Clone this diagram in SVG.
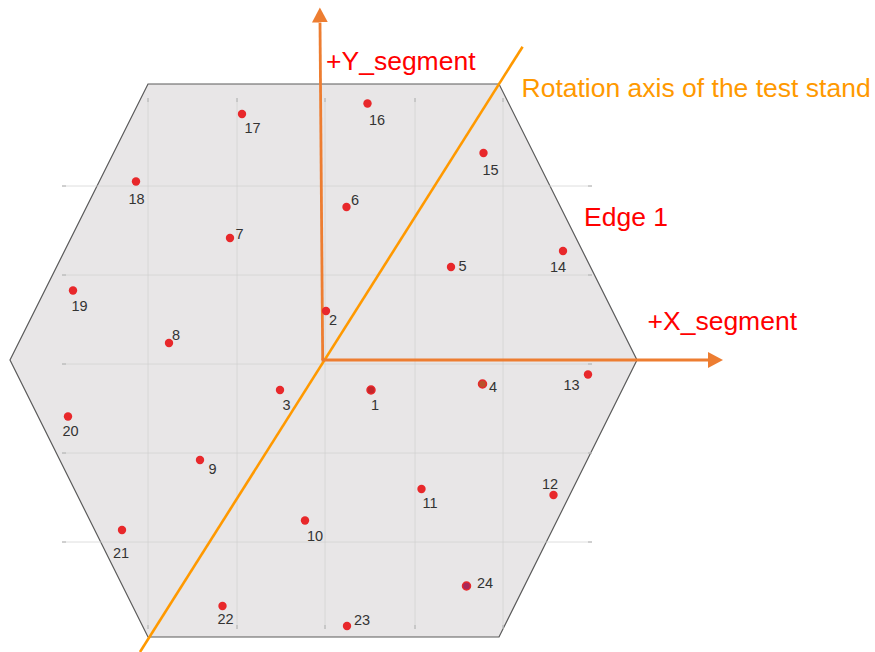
<svg xmlns="http://www.w3.org/2000/svg" width="875" height="652" viewBox="0 0 875 652">
<defs>
<style>
.grid{stroke:#d0d0d0;stroke-width:1;fill:none;opacity:0.7}
.tick{stroke:#b0b0b0;stroke-width:1}
.dot{fill:#e8282b}
.lbl{font-family:"Liberation Sans",Arial,sans-serif;font-size:14.5px;fill:#333333;text-anchor:middle}
.big{font-family:"Liberation Sans",Arial,sans-serif;font-size:26.5px}
.axis{stroke:#ed7d31;stroke-width:2.8;fill:none}
</style>
<marker id="ah" markerUnits="userSpaceOnUse" markerWidth="16" markerHeight="16" refX="0" refY="8" orient="auto">
<path d="M0,0 L15,8 L0,16 Z" fill="#ed7d31"/>
</marker>
</defs>
<rect width="875" height="652" fill="#ffffff"/>
<g id="plate">
<polygon points="148,84 499,84 637,360 499,637 148,637 10,360" fill="#e8e6e7" stroke="#5a5a5a" stroke-width="1.2"/>
<g id="grid">
<line class="grid" x1="62" y1="186" x2="592" y2="186"/>
<line class="grid" x1="62" y1="275" x2="592" y2="275"/>
<line class="grid" x1="62" y1="364" x2="592" y2="364"/>
<line class="grid" x1="62" y1="453" x2="592" y2="453"/>
<line class="grid" x1="62" y1="542" x2="592" y2="542"/>
<line class="grid" x1="148" y1="98" x2="148" y2="629"/>
<line class="grid" x1="237" y1="98" x2="237" y2="629"/>
<line class="grid" x1="325" y1="98" x2="325" y2="629"/>
<line class="grid" x1="415" y1="98" x2="415" y2="629"/>
<line class="grid" x1="503" y1="98" x2="503" y2="629"/>
<path class="tick" d="M62,186h4M62,275h4M62,364h4M62,453h4M62,542h4M588,186h4M588,275h4M588,364h4M588,453h4M588,542h4M148,98v4M237,98v4M325,98v4M415,98v4M503,98v4M148,625v4M237,625v4M325,625v4M415,625v4M503,625v4"/>
</g>
</g>
<g id="connectors">
<line id="rotation-axis" x1="140" y1="652" x2="522.6" y2="46.7" stroke="#ff9900" stroke-width="2.6"/>
<line id="y-axis" class="axis" x1="322.7" y1="360" x2="320" y2="22.5" marker-end="url(#ah)"/>
<line id="x-axis" class="axis" x1="321.5" y1="360" x2="708" y2="360" marker-end="url(#ah)"/>
</g>
<g id="texts">
<text id="t-y" class="big" x="326" y="70" fill="#ff0000">+Y_segment</text>
<text id="t-rot" class="big" x="521.5" y="96.5" fill="#ff9900">Rotation axis of the test stand</text>
<text id="t-edge" class="big" x="584" y="226" fill="#ff0000" font-size="25">Edge 1</text>
<text id="t-x" class="big" x="647.5" y="330" fill="#ff0000">+X_segment</text>
</g>
<g id="points">
<g id="p1"><circle cx="371" cy="390" r="4" fill="#c4262b" stroke="#e8282b" stroke-width="1.5"/><text class="lbl" x="375" y="410">1</text></g>
<g id="p2"><circle class="dot" cx="326" cy="311" r="4.2"/><text class="lbl" x="333" y="325">2</text></g>
<g id="p3"><circle class="dot" cx="280" cy="390" r="4.2"/><text class="lbl" x="286.5" y="410">3</text></g>
<g id="p4"><circle cx="482.5" cy="384" r="4" fill="#b8522a" stroke="#e8282b" stroke-width="1.5"/><text class="lbl" x="493" y="391.5">4</text></g>
<g id="p5"><circle class="dot" cx="451" cy="267" r="4.2"/><text class="lbl" x="462.5" y="271">5</text></g>
<g id="p6"><circle class="dot" cx="346.5" cy="207" r="4.2"/><text class="lbl" x="355" y="205">6</text></g>
<g id="p7"><circle class="dot" cx="230" cy="238" r="4.2"/><text class="lbl" x="239.5" y="238.5">7</text></g>
<g id="p8"><circle class="dot" cx="169" cy="343" r="4.2"/><text class="lbl" x="176" y="339.5">8</text></g>
<g id="p9"><circle class="dot" cx="200" cy="460" r="4.2"/><text class="lbl" x="212.5" y="473.5">9</text></g>
<g id="p10"><circle class="dot" cx="305" cy="520.5" r="4.2"/><text class="lbl" x="315" y="541">10</text></g>
<g id="p11"><circle class="dot" cx="421.5" cy="489" r="4.2"/><text class="lbl" x="430" y="507.5">11</text></g>
<g id="p12"><circle class="dot" cx="553.5" cy="495" r="4.2"/><text class="lbl" x="550" y="488.5">12</text></g>
<g id="p13"><circle class="dot" cx="588" cy="374.5" r="4.2"/><text class="lbl" x="571.5" y="390">13</text></g>
<g id="p14"><circle class="dot" cx="563" cy="251" r="4.2"/><text class="lbl" x="558" y="272">14</text></g>
<g id="p15"><circle class="dot" cx="483.5" cy="153" r="4.2"/><text class="lbl" x="490.5" y="175">15</text></g>
<g id="p16"><circle class="dot" cx="367.5" cy="103.5" r="4.2"/><text class="lbl" x="377" y="124.5">16</text></g>
<g id="p17"><circle class="dot" cx="242" cy="114" r="4.2"/><text class="lbl" x="252.5" y="132.5">17</text></g>
<g id="p18"><circle class="dot" cx="136" cy="181.5" r="4.2"/><text class="lbl" x="136.5" y="204">18</text></g>
<g id="p19"><circle class="dot" cx="73" cy="290.5" r="4.2"/><text class="lbl" x="79.5" y="311">19</text></g>
<g id="p20"><circle class="dot" cx="68" cy="416.5" r="4.2"/><text class="lbl" x="70.5" y="436">20</text></g>
<g id="p21"><circle class="dot" cx="122" cy="530" r="4.2"/><text class="lbl" x="121" y="557.5">21</text></g>
<g id="p22"><circle class="dot" cx="222.5" cy="606" r="4.2"/><text class="lbl" x="225.5" y="624">22</text></g>
<g id="p23"><circle class="dot" cx="347" cy="626" r="4.2"/><text class="lbl" x="362" y="624.5">23</text></g>
<g id="p24"><circle cx="466.5" cy="586" r="4" fill="#a8285a" stroke="#e8282b" stroke-width="1.5"/><text class="lbl" x="485" y="588">24</text></g>
</g>
</svg>
